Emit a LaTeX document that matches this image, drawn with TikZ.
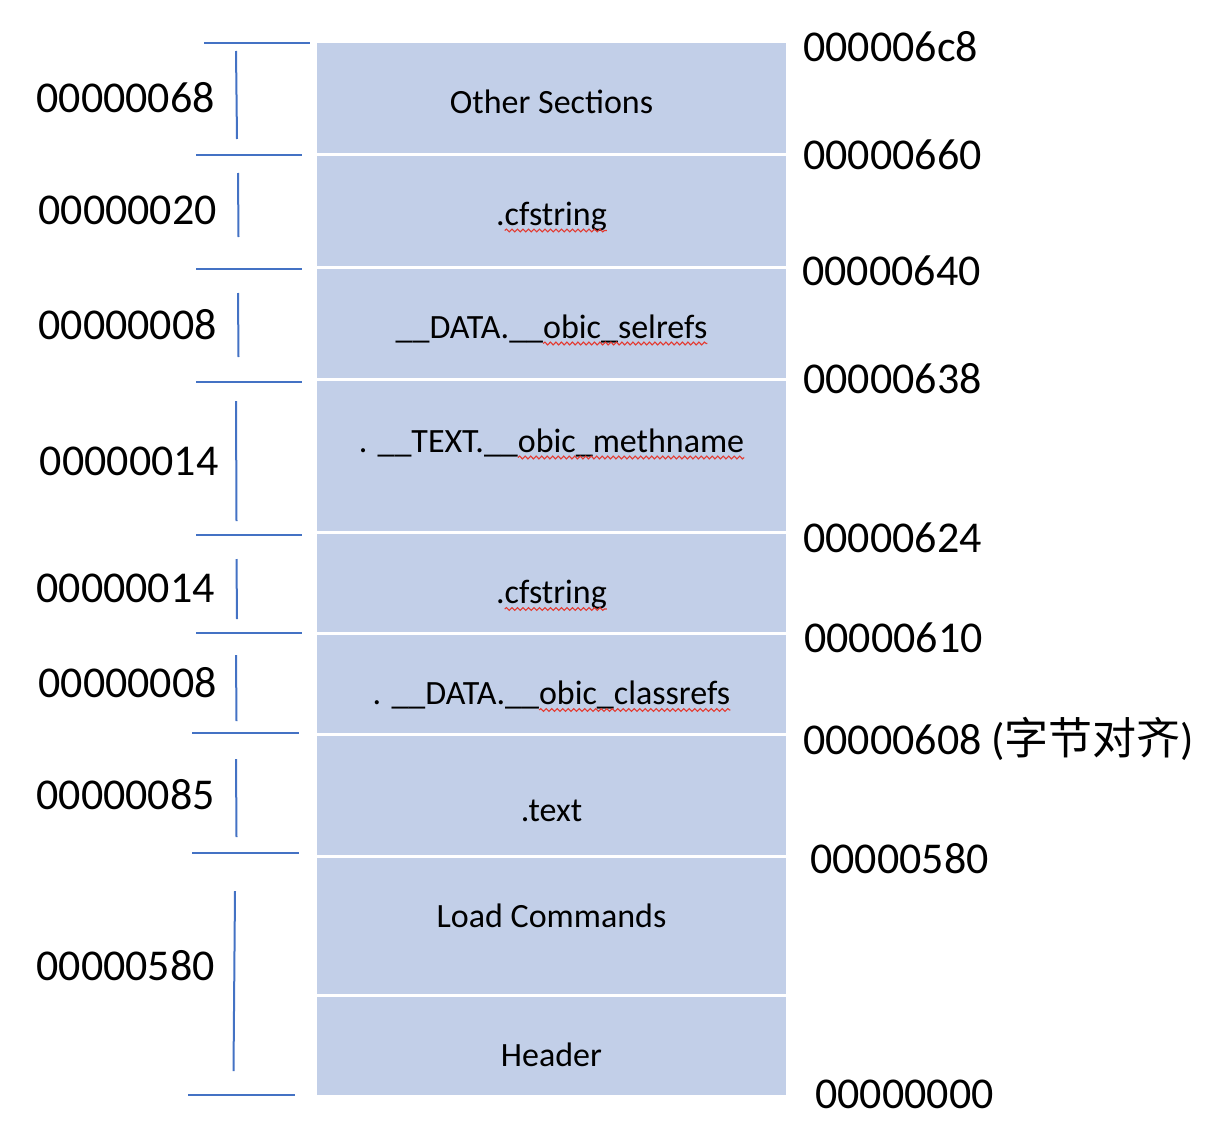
\documentclass[tikz,border=0pt]{standalone}
\usepackage{fontspec}
\setmainfont{Carlito}
\newfontfamily\cjk{Noto Sans CJK SC}
\usetikzlibrary{decorations.pathmorphing}
\definecolor{boxblue}{RGB}{194,207,232}
\definecolor{tickblue}{RGB}{68,114,196}
\definecolor{wavered}{RGB}{228,58,48}
\tikzset{
  secbox/.style={fill=boxblue, draw=none, minimum width=469pt, inner sep=0pt, outer sep=0pt},
  btxt/.style={font=\fontsize{34}{40}\selectfont, anchor=base, inner sep=0pt, outer sep=0pt},
  ghost/.style={btxt, anchor=base west, text opacity=0},
  numtxt/.style={font=\fontsize{44}{52}\selectfont, inner sep=0pt},
  lnum/.style={numtxt, anchor=base east},
  rnum/.style={numtxt, anchor=base west},
  tickline/.style={draw=tickblue, line width=2pt},
  spellwave/.style={draw=wavered, line width=1.1pt, decorate,
    decoration={snake, amplitude=1.4pt, segment length=5.5pt}},
}
% label with a spell-check wave under its second part
\newcommand\wavelabel[4]{%
  \node[btxt] (#1) at #2 {#3#4};
  \node[ghost] (#1p) at (#1.base west) {#3};
  \node[ghost] (#1w) at (#1p.base east) {#4};
  \draw[spellwave] ([yshift=-5.5pt]#1w.base west) -- ([yshift=-5.5pt]#1w.base east);
}
\begin{document}
\begin{tikzpicture}[x=1pt,y=-1pt]
\useasboundingbox (0,0) rectangle (1228,1140);
% section boxes
\node[secbox, minimum height=109.5pt] (b1) at (551.5,97.75) {};
\node[secbox, minimum height=110pt]   (b2) at (551.5,210.5) {};
\node[secbox, minimum height=109pt]   (b3) at (551.5,323) {};
\node[secbox, minimum height=150pt]   (b4) at (551.5,455.5) {};
\node[secbox, minimum height=98pt]    (b5) at (551.5,582.5) {};
\node[secbox, minimum height=98pt]    (b6) at (551.5,683.5) {};
\node[secbox, minimum height=119pt]   (b7) at (551.5,795) {};
\node[secbox, minimum height=136pt]   (b8) at (551.5,925.5) {};
\node[secbox, minimum height=98.5pt]  (b9) at (551.5,1045.75) {};
% box labels
\node[btxt] (t1) at (551.5,113) {Other Sections};
\wavelabel{t2}{(551.5,225)}{.}{cfstring}
\wavelabel{t3}{(551.5,338)}{\_\_DATA.\_\_}{obic\_selrefs}
\wavelabel{t4}{(551.5,452)}{. \_\_TEXT.\_\_}{obic\_methname}
\wavelabel{t5}{(551.5,603.5)}{.}{cfstring}
\wavelabel{t6}{(551.5,704.5)}{. \_\_DATA.\_\_}{obic\_classrefs}
\node[btxt] (t7) at (551.5,821) {.text};
\node[btxt] (t8) at (551.5,927.5) {Load Commands};
\node[btxt] (t9) at (551.5,1066) {Header};
% left size labels
\node[lnum] (l1) at (215,112) {00000068};
\node[lnum] (l2) at (217,224) {00000020};
\node[lnum] (l3) at (217,339) {00000008};
\node[lnum] (l4) at (218.5,475) {00000014};
\node[lnum] (l5) at (215,602) {00000014};
\node[lnum] (l6) at (217,697) {00000008};
\node[lnum] (l7) at (215,809) {00000085};
\node[lnum] (l8) at (215,980) {00000580};
% right address labels
\node[rnum] (r1) at (803,61) {000006c8};
\node[rnum] (r2) at (803,169) {00000660};
\node[rnum] (r3) at (802,285) {00000640};
\node[rnum] (r4) at (803,393) {00000638};
\node[rnum] (r5) at (803,552) {00000624};
\node[rnum] (r6) at (804,652) {00000610};
\node[rnum] (r7) at (803,754) {00000608 ({\cjk 字节对齐})};
\node[rnum] (r8) at (810,873) {00000580};
\node[rnum] (r9) at (815,1108) {00000000};
% horizontal ticks
\draw[tickline] (204,43) -- (310,43);
\draw[tickline] (196,155) -- (302,155);
\draw[tickline] (196,268.5) -- (302,268.5);
\draw[tickline] (196,382) -- (302,382);
\draw[tickline] (196,534.5) -- (302,534.5);
\draw[tickline] (196,632.5) -- (302,632.5);
\draw[tickline] (192,733) -- (298.5,733);
\draw[tickline] (192,853) -- (298.5,853);
\draw[tickline] (188,1095) -- (294.5,1095);
% vertical ticks
\draw[tickline] (236,51) -- (237,139);
\draw[tickline] (238,173) -- (238.5,237);
\draw[tickline] (238,293) -- (238.5,357);
\draw[tickline] (236,401) -- (236.5,521);
\draw[tickline] (236.5,559) -- (237,619);
\draw[tickline] (236,655) -- (236.5,721);
\draw[tickline] (236,759) -- (236.5,837);
\draw[tickline] (235,891) -- (233.5,1071);
\end{tikzpicture}
\end{document}
